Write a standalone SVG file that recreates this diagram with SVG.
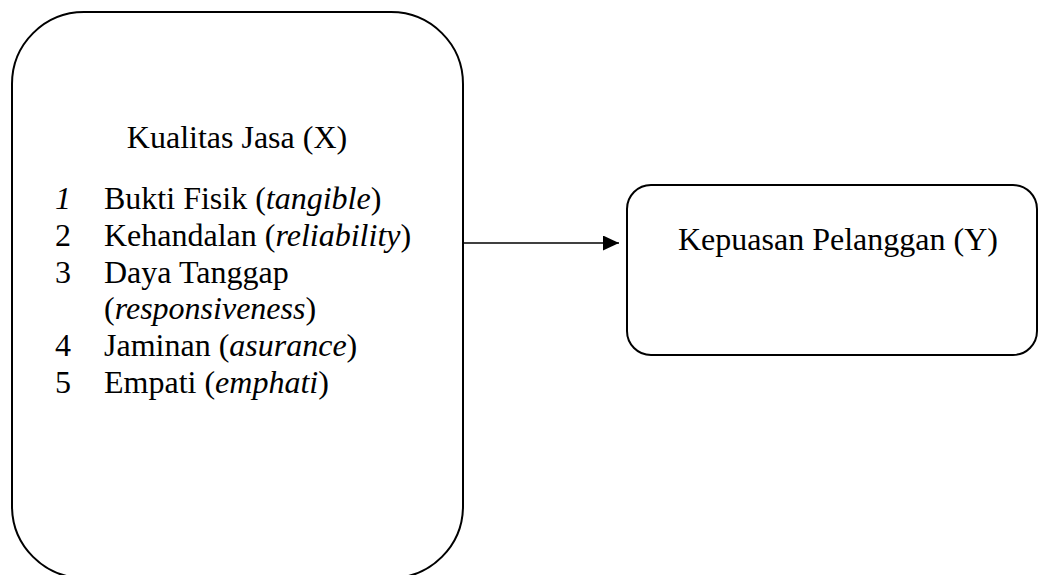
<svg xmlns="http://www.w3.org/2000/svg" width="1040" height="575" viewBox="0 0 1040 575">
<style>
.box{fill:#fff;stroke:#000;stroke-width:2}
.t{font-family:"Liberation Serif","Times New Roman",serif;font-size:32px;fill:#000}
.i{font-style:italic}
.conn{stroke:#000;stroke-width:1.4;fill:none}
</style>
<defs>
<marker id="arr" markerWidth="16" markerHeight="15" refX="16" refY="7.5" orient="auto" markerUnits="userSpaceOnUse">
<path d="M0,0 L16,7.5 L0,15 Z" fill="#000"/>
</marker>
</defs>
<rect width="1040" height="575" fill="#fff"/>
<g id="node-x">
<rect class="box" x="12" y="12" width="451" height="566" rx="72" ry="72"/>
<text class="t" x="237" y="148" text-anchor="middle">Kualitas Jasa (X)</text>
<text class="t i" x="55" y="209">1</text>
<text class="t" x="104" y="209">Bukti Fisik (<tspan class="i">tangible</tspan>)</text>
<text class="t" x="55" y="246">2</text>
<text class="t" x="104" y="246">Kehandalan (<tspan class="i">reliability</tspan>)</text>
<text class="t" x="55" y="283">3</text>
<text class="t" x="104" y="283">Daya Tanggap</text>
<text class="t" x="104" y="319">(<tspan class="i">responsiveness</tspan>)</text>
<text class="t" x="55" y="356">4</text>
<text class="t" x="104" y="356">Jaminan (<tspan class="i">asurance</tspan>)</text>
<text class="t" x="55" y="393">5</text>
<text class="t" x="104" y="393">Empati (<tspan class="i">emphati</tspan>)</text>
</g>
<g id="node-y">
<rect class="box" x="627" y="185" width="410" height="170" rx="24" ry="24"/>
<text class="t" x="678" y="250">Kepuasan Pelanggan (Y)</text>
</g>
<g id="connectors">
<line class="conn" x1="463" y1="243" x2="619" y2="243" marker-end="url(#arr)"/>
</g>
</svg>
